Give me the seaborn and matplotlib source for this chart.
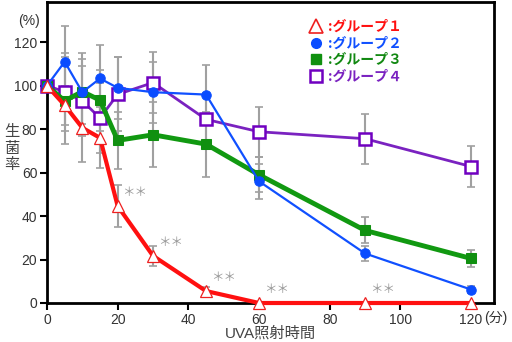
import matplotlib
matplotlib.use("Agg")
import matplotlib.pyplot as plt
import seaborn as sns
import numpy as np
from matplotlib.lines import Line2D

sns.set_style("white")
plt.rcParams['font.family'] = ['Liberation Sans', 'Noto Sans CJK JP', 'DejaVu Sans']

times = [0, 5, 10, 15, 20, 30, 45, 60, 90, 120]
g1 = [100, 91, 80.6, 76, 44.6, 21.7, 5.5, 0, 0, 0]
g2 = [100, 111, 97, 103.3, 99, 97, 95.9, 56, 22.8, 6.2]
g3 = [100, 93, 97.3, 93.3, 74.8, 77.4, 73.1, 59, 33.4, 20.5]
g4 = [100, 97.2, 93, 85.1, 96, 101.4, 84.5, 78.8, 75.6, 62.8]
e1 = [0, 9, 15.8, 14, 9.5, 4.5, 2, 0, 0, 0]
e2 = [0, 16.6, 18, 15.3, 14.4, 14, 13.5, 8, 3.5, 1.5]
e3 = [0, 20, 15, 14, 13, 15, 15, 8, 6, 4]
e4 = [0, 18, 16, 16, 17, 14, 12, 11.5, 11.5, 9.5]
labels = [':グループ１', ':グループ２', ':グループ３', ':グループ４']
stars_x = [20, 30, 45, 60, 90]
stars_y = [44.6, 21.7, 5.5, 0, 0]
xticks = [0, 20, 40, 60, 80, 100, 120]
yticks = [0, 20, 40, 60, 80, 100, 120]

fig = plt.figure(figsize=(5.12, 3.42), dpi=100)
ax = fig.add_axes([47/512, 39/342, 447/512, 301/342])

for vals, errs in [(g4, e4), (g3, e3), (g2, e2), (g1, e1)]:
    ax.errorbar(times, vals, yerr=errs, fmt='none', ecolor='#a0a0a0',
                elinewidth=1.5, capsize=3, capthick=1.2, zorder=1)

sns.lineplot(x=times, y=g4, ax=ax, color='#7a22c0', lw=2, marker='s', ms=8,
             mfc='white', mec='#7000c0', mew=1.8, zorder=3, clip_on=False)
sns.lineplot(x=times, y=g3, ax=ax, color='#119911', lw=3.5, marker='s', ms=7,
             mfc='#109010', mec='#109010', zorder=4, clip_on=False)
sns.lineplot(x=times, y=g2, ax=ax, color='#1050ff', lw=1.6, marker='o', ms=6.8,
             mfc='#0a4cff', mec='#0a4cff', zorder=5, clip_on=False)
sns.lineplot(x=times, y=g1, ax=ax, color='#ff1010', lw=3, marker='^', ms=8.5,
             mfc='white', mec='#ee2020', mew=0.9, zorder=6, clip_on=False)

for sx, sy in zip(stars_x, stars_y):
    ax.text(sx + 1.3, sy + 3.2, '＊＊', color='#999999', fontsize=9,
            family=['Noto Sans CJK JP'], ha='left', va='bottom', zorder=7)

ax.set_xlim(0, 126.5)
ax.set_ylim(0, 138.5)
ax.set_xticks(xticks)
ax.set_xticklabels(['0', '20', '40', '60', '80', '100', '120'])
ax.set_yticks(yticks)
for s in ax.spines.values():
    s.set_color('black')
    s.set_linewidth(2)
ax.tick_params(axis='both', direction='out', length=5, width=1.5, color='black',
               labelsize=10, labelcolor='#333333', pad=2, left=True, bottom=True)
ax.set_xlabel('UVA照射時間', fontsize=11, color='#444444', labelpad=0,
              family=['Liberation Sans', 'Noto Sans CJK JP'])
ax.xaxis.set_label_coords(0.5, -0.1)
ax.xaxis.label.set_va('center')
ax.set_ylabel('')
fig.text(12/512, 1 - 148/342, '生\n菌\n率', fontsize=11, color='#444444',
         ha='center', va='center', linespacing=0.95, family=['Noto Sans CJK JP'])
fig.text(29/512, 1 - 21/342, '(%)', fontsize=10, color='#333333', ha='center', va='center')
fig.text(484/512, 1 - 318/342, '(分)', fontsize=10, color='#333333', ha='left', va='center')

handles = [
    Line2D([], [], ls='none', marker='^', ms=10, mfc='white', mec='#ee2020', mew=1.2),
    Line2D([], [], ls='none', marker='o', ms=7, mfc='#0a4cff', mec='#0a4cff'),
    Line2D([], [], ls='none', marker='s', ms=7, mfc='#109010', mec='#109010'),
    Line2D([], [], ls='none', marker='s', ms=8.5, mfc='white', mec='#7000c0', mew=1.8),
]
leg = ax.legend(handles, labels, loc='upper left', bbox_to_anchor=(0.57, 0.96),
                frameon=False, handletextpad=0.3, handlelength=1.2,
                labelspacing=0.2, fontsize=10, borderaxespad=0,
                prop={'family': ['Noto Sans CJK JP'], 'weight': 'bold', 'size': 10})
for t, c in zip(leg.get_texts(), ['#ff1010', '#1050ff', '#118811', '#7a22c0']):
    t.set_color(c)

fig.savefig('out.png', dpi=100)
